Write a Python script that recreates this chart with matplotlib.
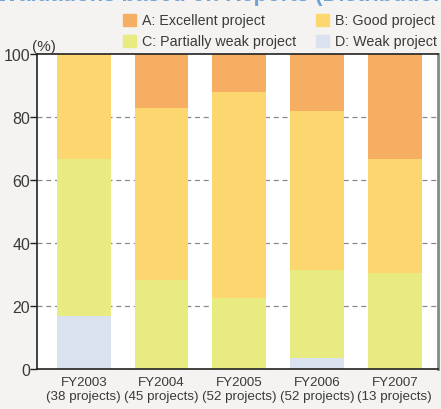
import matplotlib.pyplot as plt
import numpy as np

plt.rcParams['font.family'] = ['Liberation Sans', 'DejaVu Sans']

years = ['FY2003', 'FY2004', 'FY2005', 'FY2006', 'FY2007']
counts = ['38 projects', '45 projects', '52 projects', '52 projects', '13 projects']

# share of projects per grade (%)
grade_d = [16.9, 0.0, 0.0, 3.6, 0.0]
grade_c = [49.9, 28.3, 22.6, 27.9, 30.7]
grade_b = [33.2, 54.7, 65.4, 50.5, 36.1]
grade_a = [0.0, 17.0, 12.0, 18.0, 33.2]

labels = ['A: Excellent project', 'B: Good project',
          'C: Partially weak project', 'D: Weak project']
colors = ['#f6ae63', '#fcd76f', '#e8eb80', '#d9e2ee']

bg = '#f4f3f1'
fig = plt.figure(figsize=(4.41, 4.10), dpi=100, facecolor=bg)
ax = fig.add_axes([0.084, 0.097, 0.909, 0.768])
ax.set_facecolor('white')

x = np.arange(len(years))
w = 0.69
bottom = np.zeros(len(years))
for vals, col in [(grade_d, colors[3]), (grade_c, colors[2]),
                  (grade_b, colors[1]), (grade_a, colors[0])]:
    ax.bar(x, vals, w, bottom=bottom, color=col, zorder=2)
    bottom += np.array(vals)

ax.set_xlim(-0.602, 4.556)
ax.set_ylim(0, 100)
ax.set_yticks([0, 20, 40, 60, 80, 100])
for yv in [20, 40, 60, 80]:
    ax.axhline(yv, color='#8a8a8a', lw=0.9, ls=(0, (4, 3)), zorder=1)

ax.set_xticks(x)
ax.set_xticklabels([f'{y}\n({c})' for y, c in zip(years, counts)],
                   fontsize=9.6, color='#3a3a3a', linespacing=1.25)
ax.tick_params(axis='x', length=0, pad=5)
ax.tick_params(axis='y', length=5, width=1, color='#222222',
               labelsize=11.5, labelcolor='#3a3a3a', pad=0)

for s in ['left', 'bottom', 'top']:
    ax.spines[s].set_color('#222222')
    ax.spines[s].set_linewidth(1.2)
ax.spines['right'].set_color('#888888')
ax.spines['right'].set_linewidth(2)

fig.text(0.073, 0.868, '(%)', fontsize=11, color='#3a3a3a', ha='left', va='bottom')

# title, mostly cut off by top edge
fig.text(0.505, 0.985, 'Evaluations based on Reports (Distribution)',
         fontsize=16, fontweight='bold', color='#6fa3d6', ha='center', va='bottom')

# legend
leg_pos = [(0.279, 0.949), (0.716, 0.949), (0.279, 0.898), (0.716, 0.898)]
for (lx, ly), lab, col in zip(leg_pos, labels, colors):
    fig.patches.append(plt.Rectangle((lx, ly - 0.016), 0.029, 0.031,
                                     transform=fig.transFigure, color=col))
    fig.text(lx + 0.043, ly, lab, fontsize=10.3, color='#3a3a3a',
             ha='left', va='center')

fig.savefig('out.png', dpi=100, facecolor=bg)
